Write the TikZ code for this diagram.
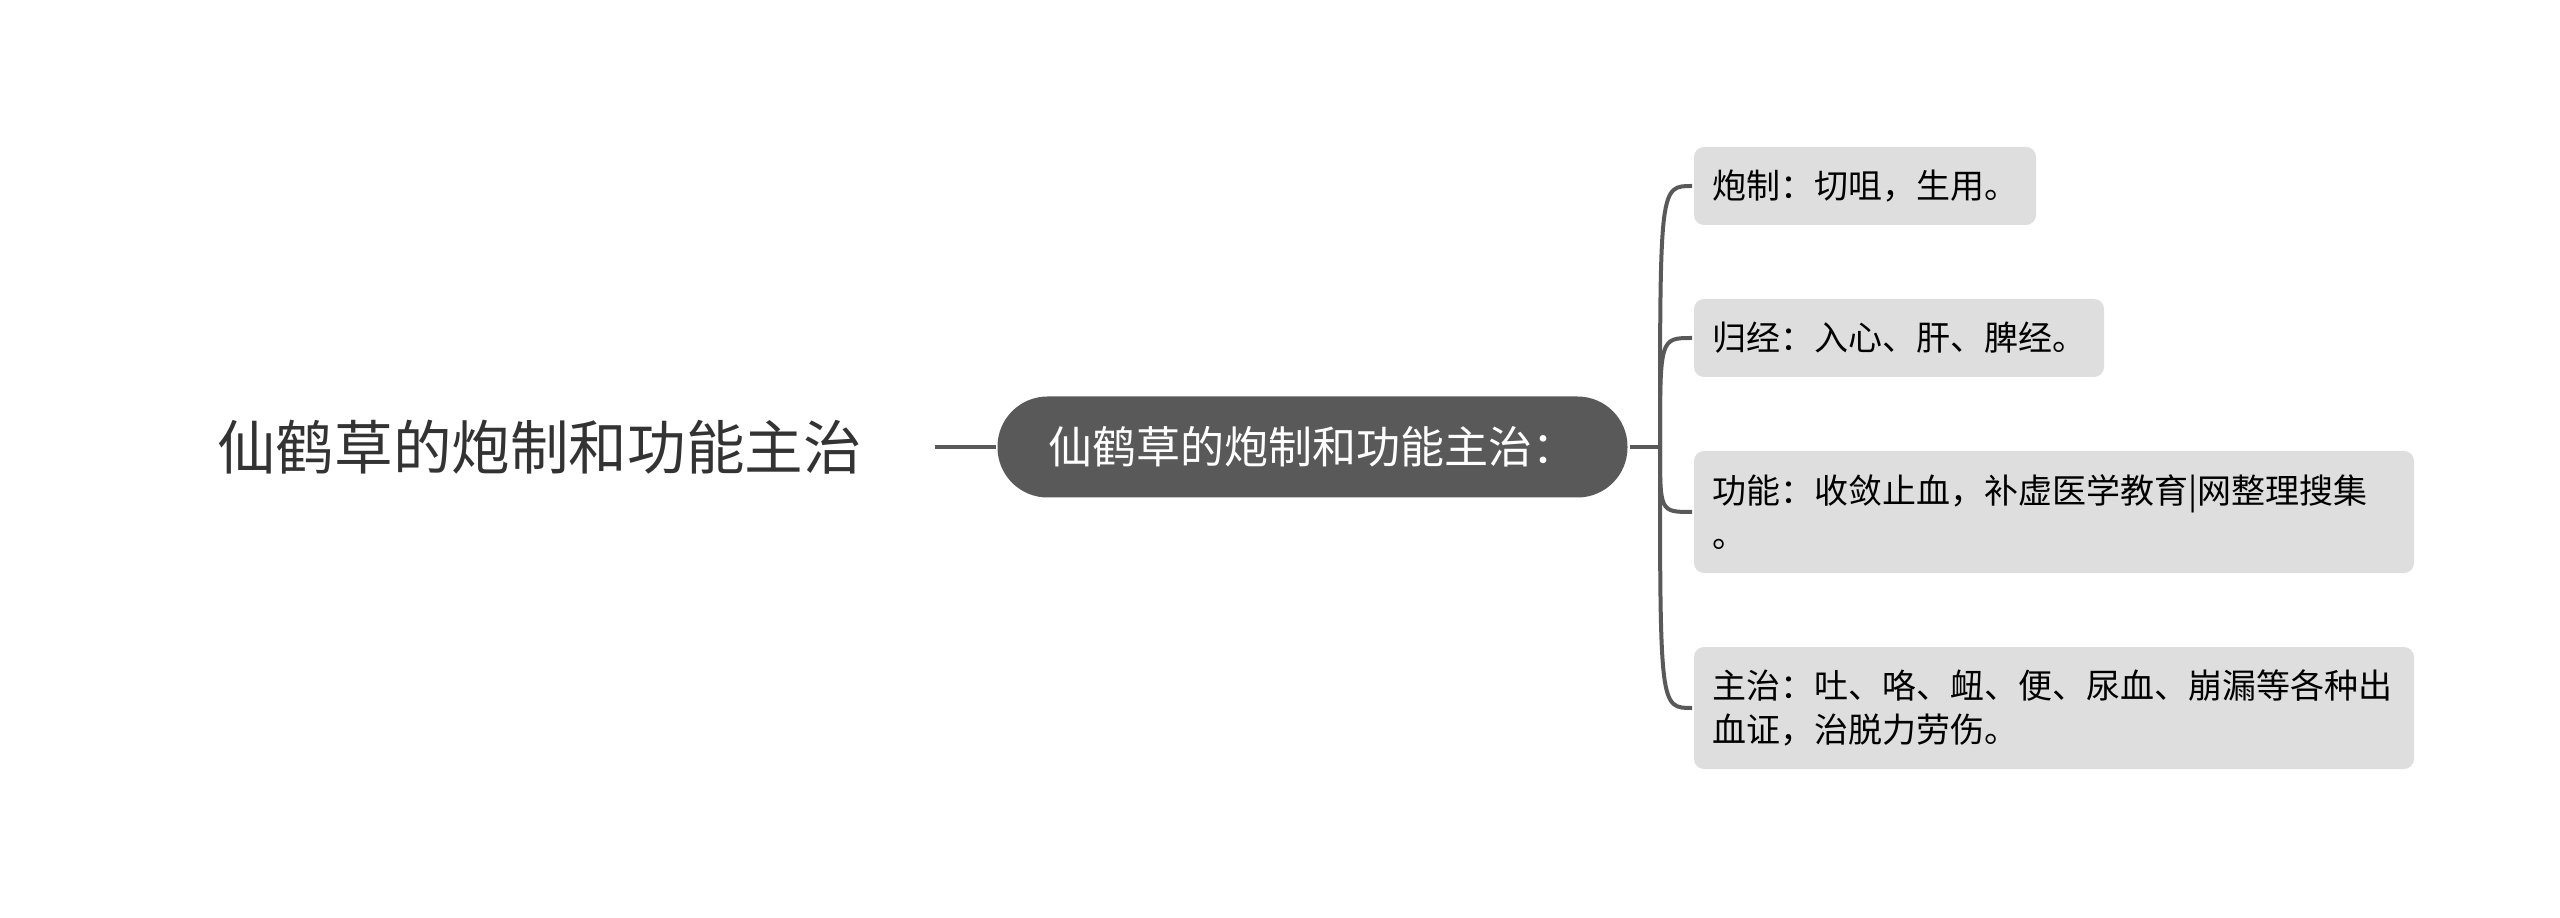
\documentclass[tikz,border=0pt]{standalone}
\usepackage{fontspec}
\setmainfont{Noto Sans CJK SC}
\usetikzlibrary{positioning,calc}
\definecolor{linegray}{HTML}{595959}
\definecolor{boxgray}{HTML}{DEDEDE}
\definecolor{roottext}{HTML}{333333}
\tikzset{
  topic/.style={fill=boxgray, rounded corners=5pt, anchor=west, inner xsep=9pt,
    minimum height=39pt, font=\fontsize{17pt}{22pt}\selectfont, text=black},
  wide/.style={text width=342pt, align=left, minimum height=61pt},
}

\begin{document}
\begin{tikzpicture}[x=1pt,y=1pt,line width=2pt]
\useasboundingbox (0,0) rectangle (1280,458.5);

\node [font=\fontsize{29.3pt}{35pt}\selectfont, text=roottext, inner xsep=35.5pt] (root) at (269.75,235) {仙鹤草的炮制和功能主治};
\node [fill=linegray, text=white, rounded corners=25pt, minimum height=50.5pt, inner xsep=25.5pt,
  font=\fontsize{22pt}{26pt}\selectfont] (main) at (656.25,235) {仙鹤草的炮制和功能主治：};
\coordinate (j) at (830,235);

\node [topic] (pz) at (846,365.5) {炮制：切咀，生用。};
\node [topic] (gj) at (846,289.5) {归经：入心、肝、脾经。};
\node [topic,wide] (gn) at (846,202.5) {功能：收敛止血，补虚医学教育|网整理搜集\\。};
\node [topic,wide] (zz) at (846,104.5) {主治：吐、咯、衄、便、尿血、崩漏等各种出\\血证，治脱力劳伤。};

\begin{scope}[color=linegray]
\draw (root) to (main);
\draw (main) to (j);
\foreach \n in {pz,gj,gn,zz}
  \draw (j) .. controls (j |- \n.west) .. (\n.west);
\end{scope}

\end{tikzpicture}
\end{document}
